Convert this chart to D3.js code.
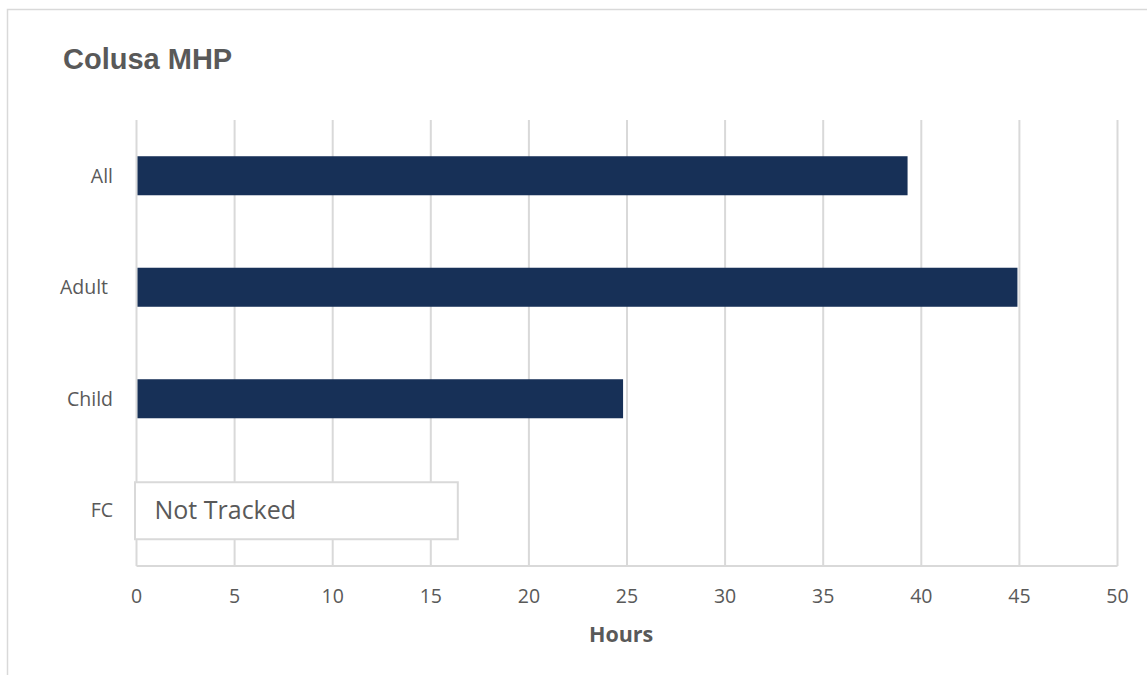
<!DOCTYPE html>
<html>
<head>
<meta charset="utf-8">
<script src="https://cdn.jsdelivr.net/npm/d3@7"></script>
<style>
  body { margin: 0; background: #fff; }
  svg { display: block; }
</style>
</head>
<body>
<svg id="chart"></svg>
<script>
const categories = ['All', 'Adult', 'Child', 'FC'];
const hours = [39.3, 44.9, 24.8, null];
const xTicks = [0, 5, 10, 15, 20, 25, 30, 35, 40, 45, 50];
const noteText = 'Not Tracked';
const noteExtent = 16.3;

const width = 1147, height = 675;
const margin = { top: 120, right: 30, bottom: 110, left: 136.5 };
const plotW = 1117.5 - margin.left;

const svg = d3.select('#chart').attr('width', width).attr('height', height);

// outer chart frame (clipped on right/bottom like the original)
svg.append('rect')
  .attr('x', 7.5).attr('y', 9.5)
  .attr('width', 1160).attr('height', 700)
  .attr('fill', '#fff').attr('stroke', '#d9d9d9').attr('stroke-width', 1.5);

svg.append('text')
  .attr('x', 63).attr('y', 69)
  .attr('font-family', 'Liberation Sans, Arial, sans-serif')
  .attr('font-weight', 'bold').attr('font-size', 29)
  .attr('fill', '#595959')
  .text('Colusa MHP');

const x = d3.scaleLinear().domain([0, 50]).range([0, plotW]);
const y = d3.scaleBand().domain(categories).range([0, 446]).paddingInner(0.65).paddingOuter(0.325);

const g = svg.append('g').attr('transform', `translate(${margin.left},${margin.top})`);

// gridlines
g.selectAll('line.grid')
  .data(xTicks)
  .join('line')
  .attr('class', 'grid')
  .attr('x1', d => x(d)).attr('x2', d => x(d))
  .attr('y1', 0).attr('y2', 446)
  .attr('stroke', '#d9d9d9').attr('stroke-width', 2);

// bottom axis line
g.append('line')
  .attr('x1', 0).attr('x2', plotW)
  .attr('y1', 446).attr('y2', 446)
  .attr('stroke', '#d9d9d9').attr('stroke-width', 2);

// bars
g.selectAll('rect.bar')
  .data(categories.map((c, i) => ({ c, v: hours[i] })).filter(d => d.v != null))
  .join('rect')
  .attr('class', 'bar')
  .attr('x', x(0) + 1)
  .attr('y', d => y(d.c))
  .attr('width', d => x(d.v) - x(0) - 1)
  .attr('height', y.bandwidth())
  .attr('fill', '#173057');

// "Not Tracked" box
const fcY = y('FC') + y.bandwidth() / 2;
g.append('rect')
  .attr('x', x(0) - 1.5).attr('y', fcY - 28)
  .attr('width', x(noteExtent) - x(0) + 3).attr('height', 57)
  .attr('fill', '#fff').attr('stroke', '#d9d9d9').attr('stroke-width', 2);
g.append('text')
  .attr('x', x(0) + 18).attr('y', fcY + 9)
  .attr('font-family', 'Open Sans, sans-serif').attr('font-size', 25)
  .attr('fill', '#595959')
  .text(noteText);

// y category labels
g.selectAll('text.cat')
  .data(categories)
  .join('text')
  .attr('class', 'cat')
  .attr('x', d => d === 'Adult' ? -28.5 : -23.5)
  .attr('y', d => y(d) + y.bandwidth() / 2 + 7)
  .attr('text-anchor', 'end')
  .attr('font-family', 'Open Sans, sans-serif').attr('font-size', 19.5)
  .attr('fill', '#595959')
  .text(d => d);

// x tick labels
g.selectAll('text.tick')
  .data(xTicks)
  .join('text')
  .attr('class', 'tick')
  .attr('x', d => x(d))
  .attr('y', 483)
  .attr('text-anchor', 'middle')
  .attr('font-family', 'Open Sans, sans-serif').attr('font-size', 19.5)
  .attr('fill', '#595959')
  .text(d => d);

// x axis title
g.append('text')
  .attr('x', x(24.7)).attr('y', 522)
  .attr('text-anchor', 'middle')
  .attr('font-family', 'Open Sans, sans-serif').attr('font-weight', 'bold').attr('font-size', 21.5)
  .attr('fill', '#595959')
  .text('Hours');
</script>
</body>
</html>
